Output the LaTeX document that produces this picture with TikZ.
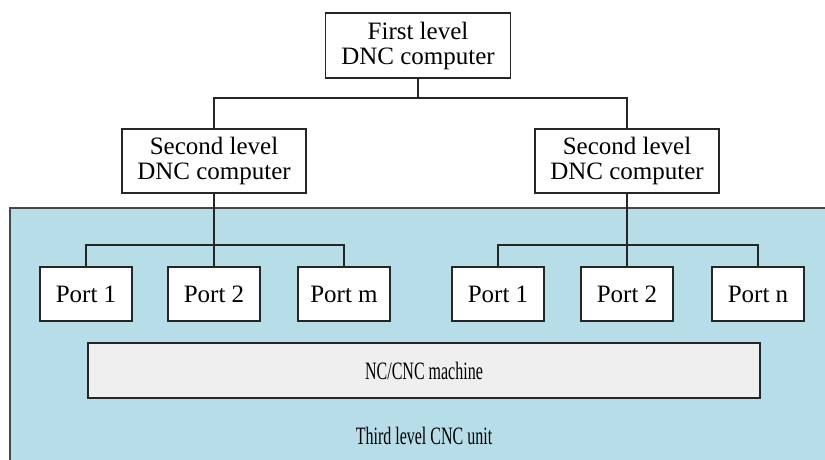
\documentclass[tikz,border=0pt]{standalone}
\usepackage{fontspec}
\setmainfont{Liberation Serif}
\newfontfamily\narrowserif[FakeStretch=0.64]{Liberation Serif}
\definecolor{unitblue}{HTML}{B7DDE8}
\definecolor{machinegray}{HTML}{EFEFEF}
\definecolor{linedark}{HTML}{262626}
\begin{document}
\begin{tikzpicture}[x=1pt,y=-1pt,
  box/.style={draw=linedark, line width=1.3pt, fill=white, inner sep=0pt,
    align=center, font=\fontsize{25}{25}\selectfont},
  levelbox/.style={box, minimum width=184pt, minimum height=64pt},
  portbox/.style={box, minimum width=92pt, minimum height=54pt},
  wire/.style={draw=linedark, line width=1.3pt}]
\useasboundingbox (0,0) rectangle (825,459);
% third level area
\begin{scope}
  \clip (0,0) rectangle (825,459);
  \fill[unitblue] (10,208) rectangle (830,465);
  \draw[draw=linedark!85, line width=1.6pt] (10,465) -- (10,208) -- (830,208);
\end{scope}
% computers
\node[box, minimum width=185pt, minimum height=65pt] (first) at (418,45.5) {First level\\DNC computer};
\node[levelbox] (secL) at (214,161) {Second level\\DNC computer};
\node[levelbox] (secR) at (627,161) {Second level\\DNC computer};
% ports
\node[portbox] (lp1) at (86,294) {Port 1};
\node[portbox] (lp2) at (214,294) {Port 2};
\node[portbox] (lpm) at (344,294) {Port m};
\node[portbox] (rp1) at (498,294) {Port 1};
\node[portbox] (rp2) at (627,294) {Port 2};
\node[portbox] (rpn) at (758,294) {Port n};
% machine
\node[box, fill=machinegray, minimum width=672pt, minimum height=55pt,
  font=\narrowserif\fontsize{25}{25}\selectfont] (machine) at (424,370.5) {NC/CNC machine};
\node[font=\narrowserif\fontsize{25}{25}\selectfont] (unit) at (424,436) {Third level CNC unit};
% connections
\coordinate (topbus) at (418,98);
\coordinate (busL) at (214,245);
\coordinate (busR) at (627,245);
\draw[wire] (first.south) -- (topbus);
\draw[wire] (secL.north) |- (topbus) -| (secR.north);
\draw[wire] (secL.south) -- (lp2.north);
\draw[wire] (lp1.north) |- (busL) -| (lpm.north);
\draw[wire] (secR.south) -- (rp2.north);
\draw[wire] (rp1.north) |- (busR) -| (rpn.north);
\end{tikzpicture}
\end{document}
